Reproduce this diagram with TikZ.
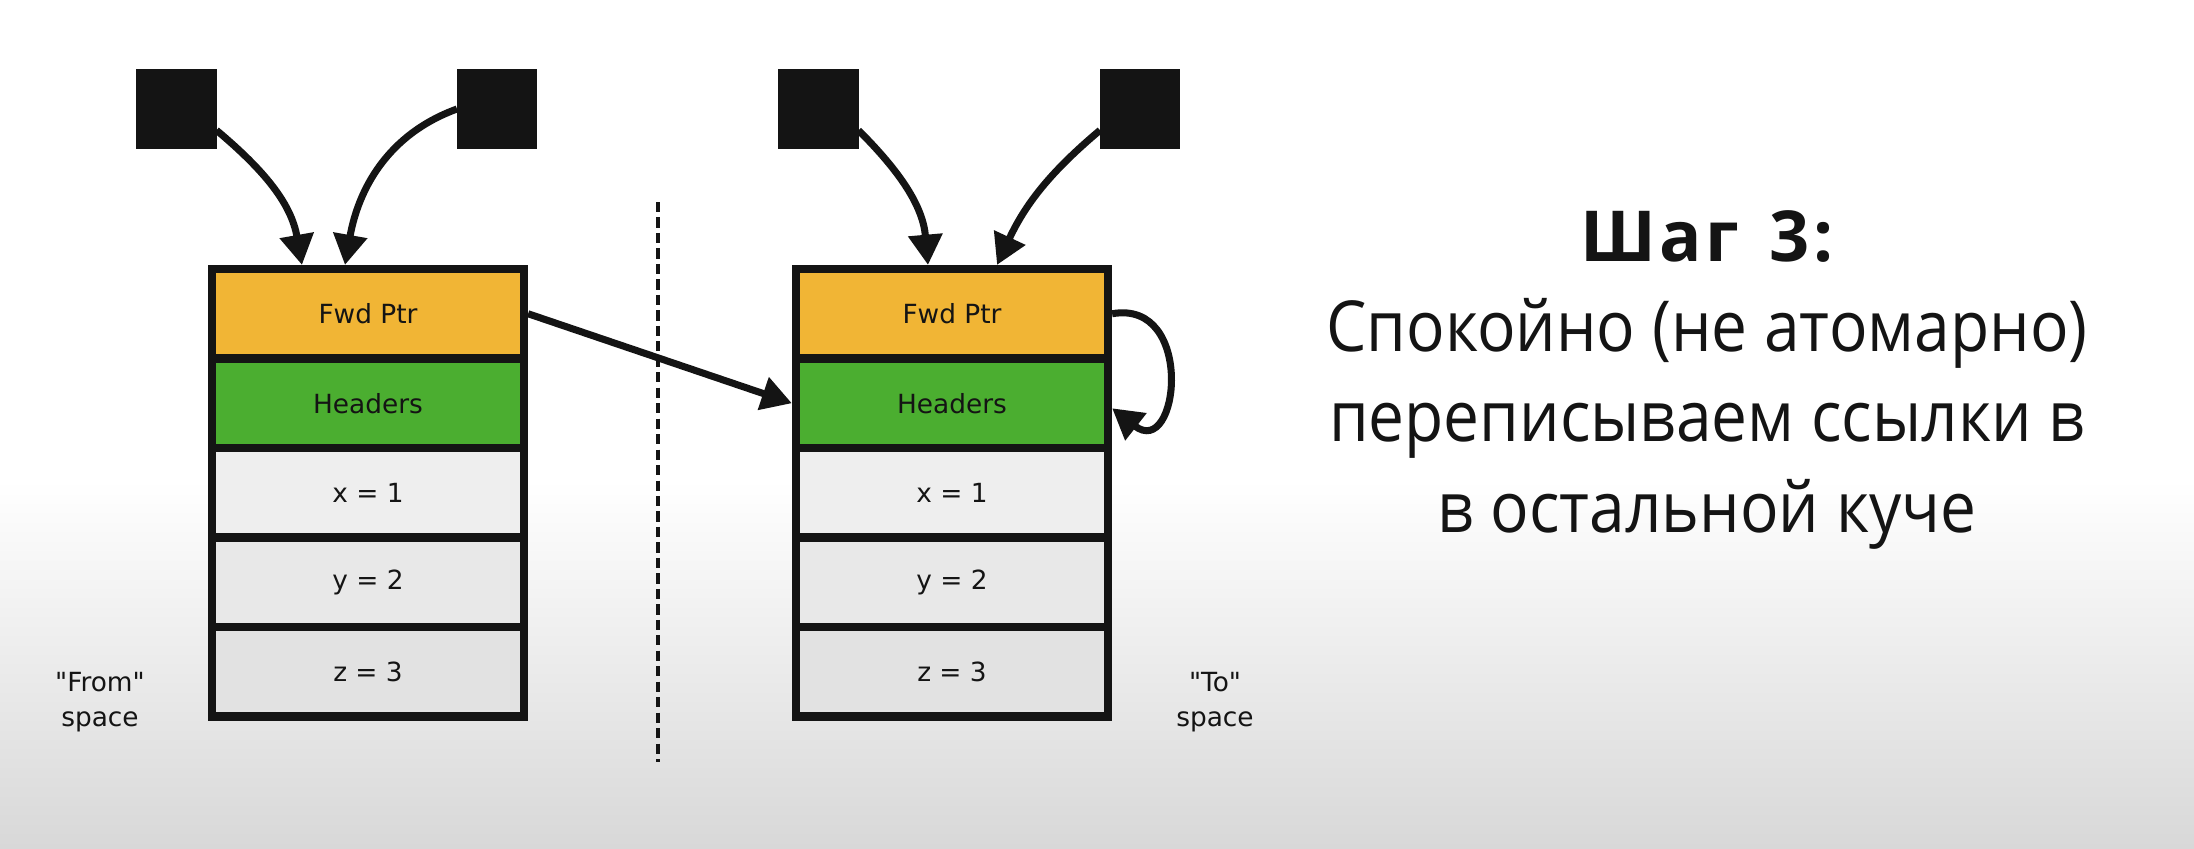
\documentclass[tikz,border=0pt]{standalone}
\usepackage{fontspec}
\setmainfont{DejaVu Sans}
\newfontfamily\notefont[FakeStretch=0.91]{Open Sans}
\newfontfamily\headfont[LetterSpace=5]{Open Sans}
\usetikzlibrary{arrows.meta}
\definecolor{fwdcol}{HTML}{F1B535}
\definecolor{hdrcol}{HTML}{4BAE30}
\definecolor{cellA}{HTML}{EEEEEE}
\definecolor{cellB}{HTML}{E8E8E8}
\definecolor{cellC}{HTML}{E2E2E2}
\definecolor{ink}{HTML}{141414}
\definecolor{floor}{HTML}{D8D8D8}

\begin{document}
\begin{tikzpicture}[x=0.01cm,y=0.01cm,
  cell/.style={draw=ink, line width=2.3pt, minimum width=3.12cm, minimum height=0.895cm,
    inner sep=0pt, font=\fontsize{7.5}{9}\selectfont, text=ink},
  root/.style={fill=ink, minimum size=0.8cm, inner sep=0pt, outer sep=0pt},
  ptr/.style={draw=ink, line width=2pt, -{Triangle[width=9.4pt,length=8.6pt]}},
  caption/.style={align=center, font=\fontsize{7.5}{10}\selectfont, text=ink}]

% page and the soft grey floor
\useasboundingbox (0,0) rectangle (2194,-848);
\fill[white] (0,0) rectangle (2194,-481);
\shade[top color=white, bottom color=floor] (0,-480) rectangle (2194,-848);

% "From" space object
\node[cell, fill=fwdcol] (fwd1) at (368,-313.75) {Fwd Ptr};
\node[cell, fill=hdrcol] (hdr1) at (368,-403.25) {Headers};
\node[cell, fill=cellA]  (xa1)  at (368,-492.75) {x = 1};
\node[cell, fill=cellB]  (yb1)  at (368,-582.25) {y = 2};
\node[cell, fill=cellC]  (zc1)  at (368,-671.75) {z = 3};

% "To" space object
\node[cell, fill=fwdcol] (fwd2) at (952,-313.75) {Fwd Ptr};
\node[cell, fill=hdrcol] (hdr2) at (952,-403.25) {Headers};
\node[cell, fill=cellA]  (xa2)  at (952,-492.75) {x = 1};
\node[cell, fill=cellB]  (yb2)  at (952,-582.25) {y = 2};
\node[cell, fill=cellC]  (zc2)  at (952,-671.75) {z = 3};

% roots
\node[root] (r1) at (176.5,-109) {};
\node[root] (r2) at (497,-109) {};
\node[root] (r3) at (818.5,-109) {};
\node[root] (r4) at (1140,-109) {};

% references
\draw[ptr] (r1.-28) to[out=-40,in=100] ([xshift=-0.66cm]fwd1.north);
\draw[ptr] (r2.west) to[out=200,in=80] ([xshift=-0.23cm]fwd1.north);
\draw[ptr] (r3.-28) to[out=-45,in=95] ([xshift=-0.24cm]fwd2.north);
\draw[ptr] (r4.208) to[out=220,in=65] ([xshift=0.45cm]fwd2.north);
\draw[ptr] (fwd1.east) -- (hdr2.west);
\draw[ptr] (fwd2.east) .. controls +(10:85) and +(-38:85) .. ([yshift=-0.05cm]hdr2.east);

% boundary between the two spaces
\coordinate (cutTop) at (658,-202);
\coordinate (cutBot) at (658,-762);
\draw[ink, line width=1.2pt, dash pattern=on 2.9pt off 1.5pt] (cutTop) -- (cutBot);

% space labels
\node[caption] (fromlbl) at (100,-702) {\textquotedbl From\textquotedbl\\space};
\node[caption] (tolbl) at (1215,-702) {\textquotedbl To\textquotedbl\\space};

% step description (base anchor sits on the last line)
\node[align=center, font=\notefont\fontsize{20}{25.6}\selectfont, text=ink, anchor=base]
  (step) at (1707,-532)
  {{\headfont\bfseries Шаг\hspace{0.12em} 3:}\\Спокойно (не атомарно)\\переписываем ссылки в\\в остальной куче};
\end{tikzpicture}
\end{document}
